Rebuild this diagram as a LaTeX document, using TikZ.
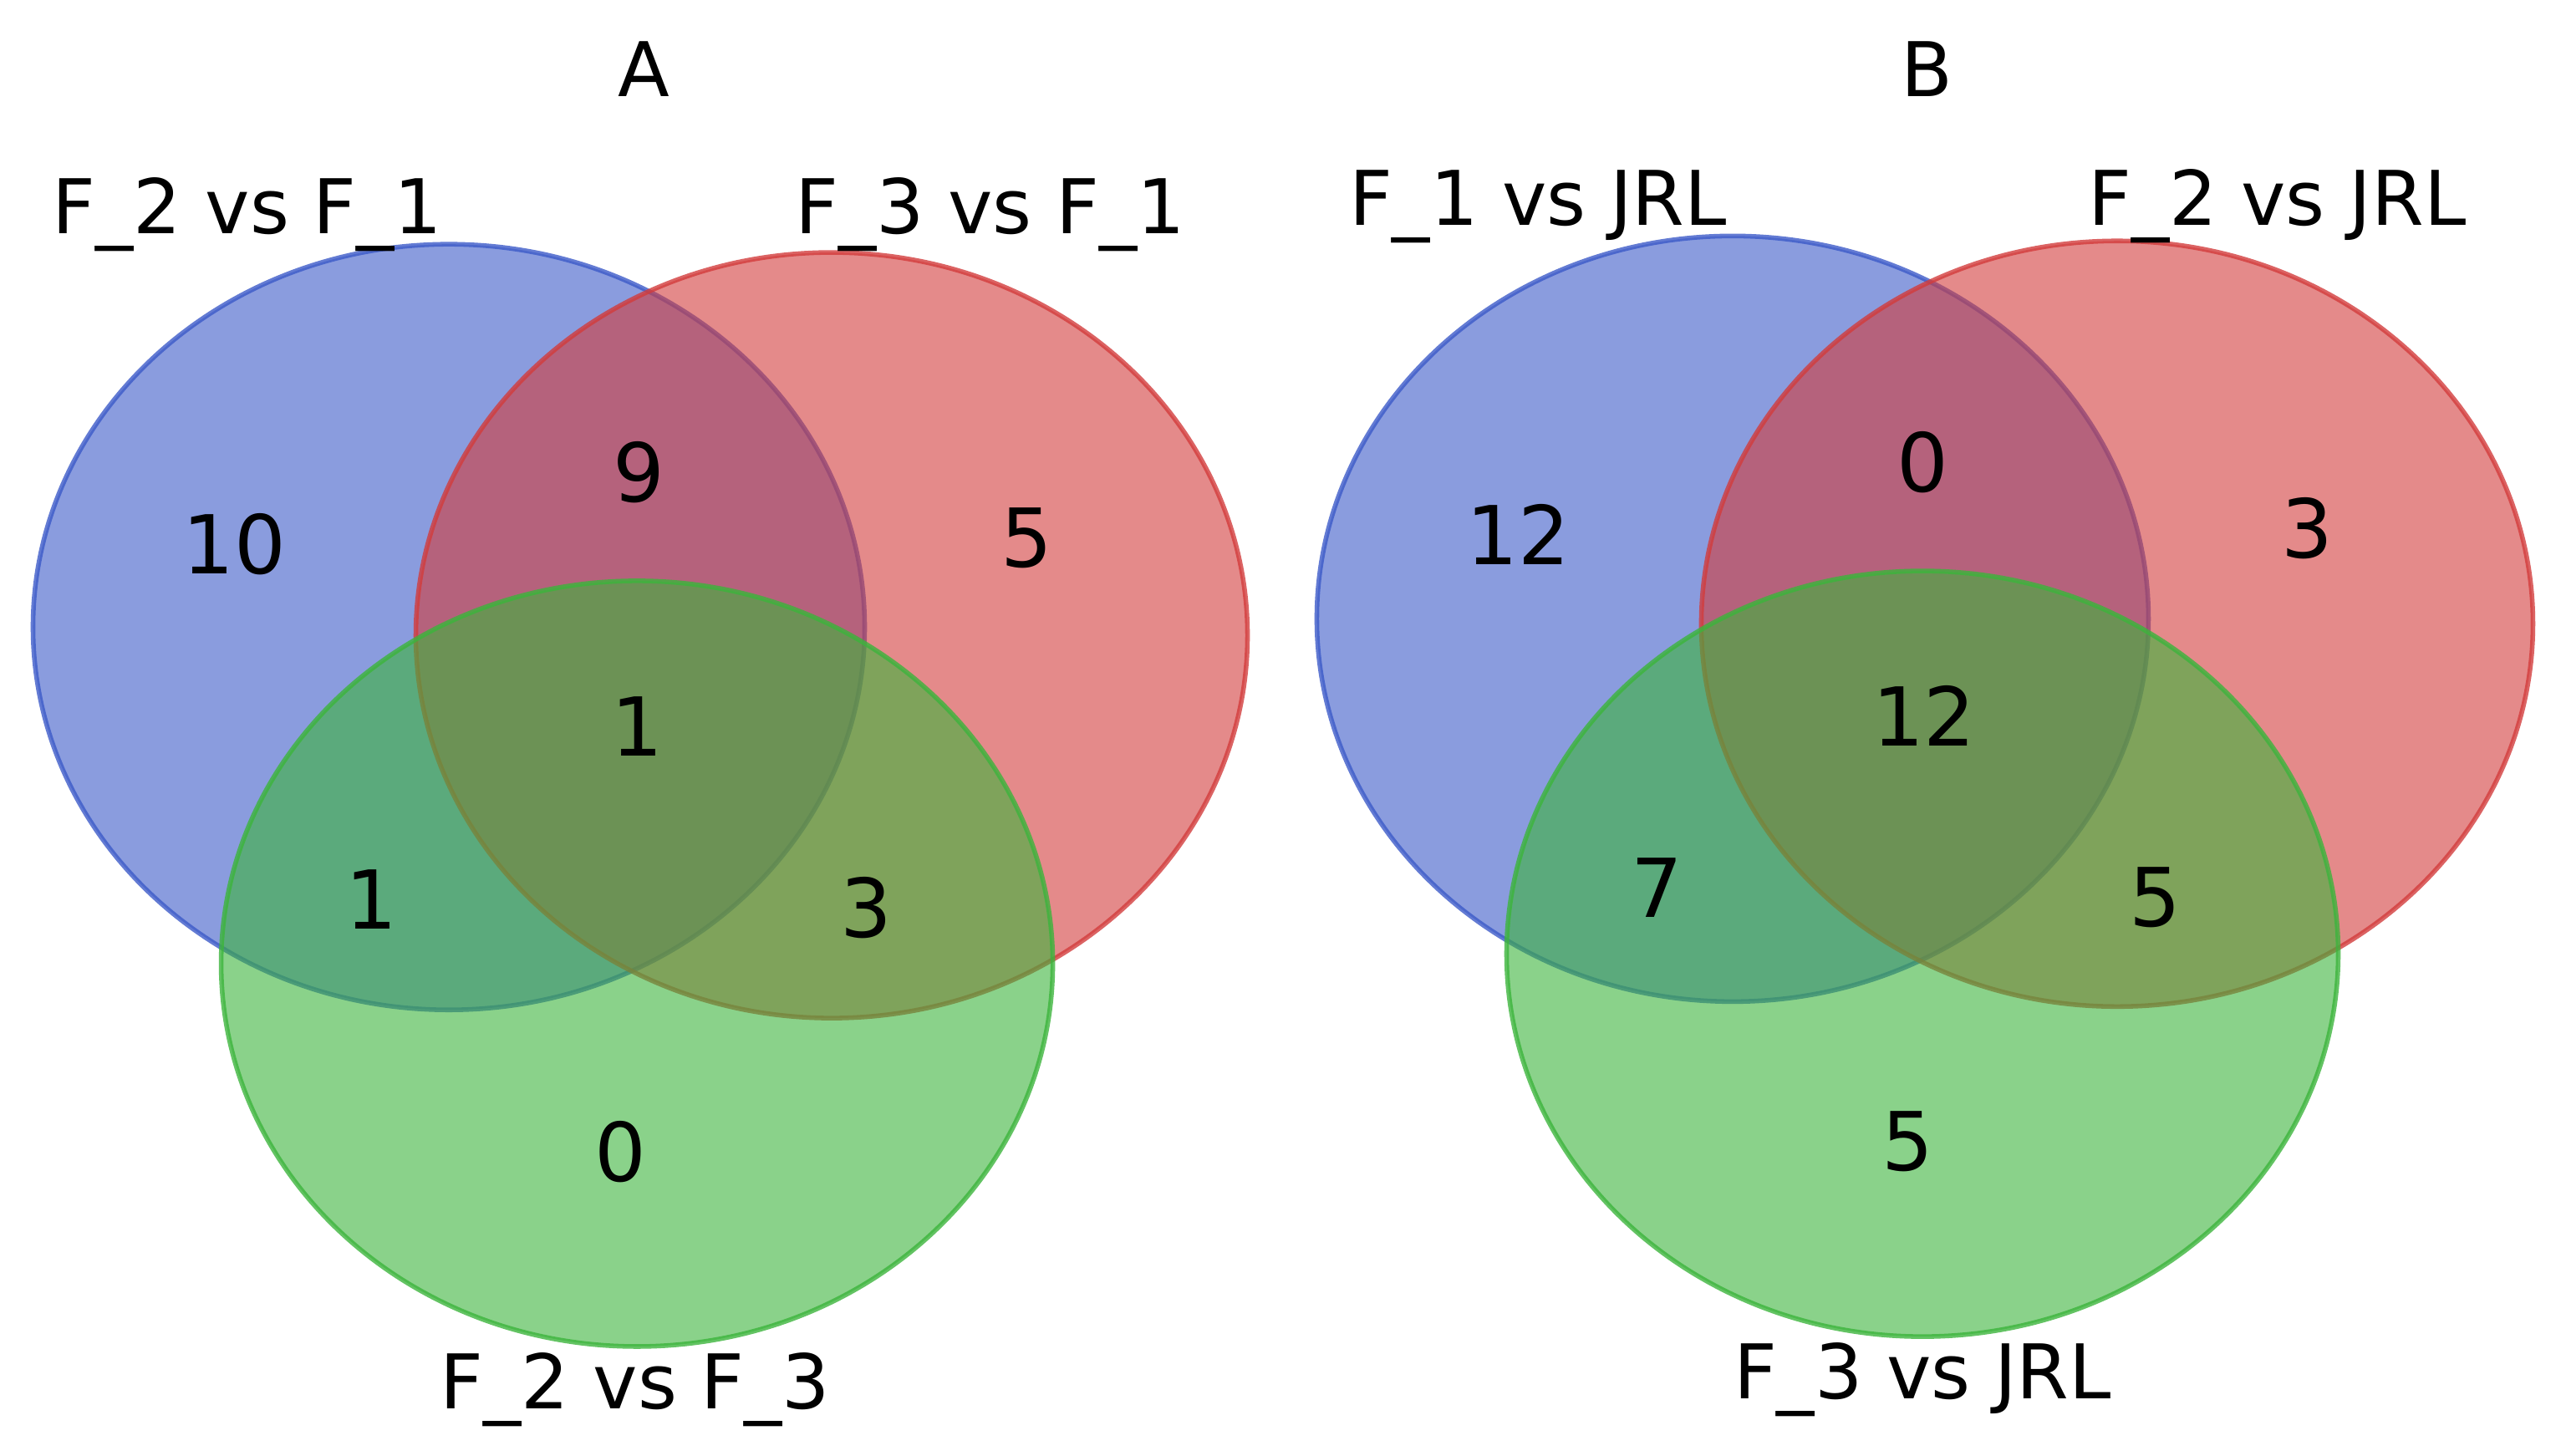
\documentclass[tikz,border=0pt]{standalone}
\usepackage{fontspec}
\setmainfont{DejaVu Sans}
\definecolor{vblue}{RGB}{60,90,200}
\definecolor{vred}{RGB}{210,60,60}
\definecolor{vgreen}{RGB}{60,180,60}
\tikzset{
  set/.style={fill opacity=0.6,draw opacity=0.8,line width=0.8pt},
  num/.style={font=\fontsize{14}{16}\selectfont},
  lab/.style={font=\fontsize{13}{15}\selectfont}
}
\begin{document}
\begin{tikzpicture}[x=0.01cm,y=-0.01cm]
  \useasboundingbox (0,0) rectangle (1552,882);
  % panel A
  \draw[set,fill=vblue,draw=vblue] (272,380) ellipse (252 and 232);
  \draw[set,fill=vred,draw=vred] (504,385) ellipse (252 and 232);
  \draw[set,fill=vgreen,draw=vgreen] (386,584) ellipse (252 and 232);
  \node[lab] (tA) at (390,42) {A};
  \node[lab] (a1) at (150,130) {F\_2 vs F\_1};
  \node[lab] (a2) at (600,130) {F\_3 vs F\_1};
  \node[lab] (a3) at (385,842) {F\_2 vs F\_3};
  \node[num] (a10) at (142,330) {10};
  \node[num] (a9) at (387,286) {9};
  \node[num] (a5) at (622,326) {5};
  \node[num] (a111) at (386,440) {1};
  \node[num] (a101) at (225,545) {1};
  \node[num] (a011) at (525,550) {3};
  \node[num] (a001) at (376,698) {0};
  % panel B
  \draw[set,fill=vblue,draw=vblue] (1050,375) ellipse (252 and 232);
  \draw[set,fill=vred,draw=vred] (1283,378) ellipse (252 and 232);
  \draw[set,fill=vgreen,draw=vgreen] (1165,578) ellipse (252 and 232);
  \node[lab] (tB) at (1168,42) {B};
  \node[lab] (b1) at (932,125) {F\_1 vs JRL};
  \node[lab] (b2) at (1380,125) {F\_2 vs JRL};
  \node[lab] (b3) at (1165,836) {F\_3 vs JRL};
  \node[num] (b100) at (920,324) {12};
  \node[num] (b110) at (1165,280) {0};
  \node[num] (b010) at (1398,320) {3};
  \node[num] (b111) at (1166,434) {12};
  \node[num] (b101) at (1004,538) {7};
  \node[num] (b011) at (1306,544) {5};
  \node[num] (b001) at (1156,692) {5};
\end{tikzpicture}
\end{document}
